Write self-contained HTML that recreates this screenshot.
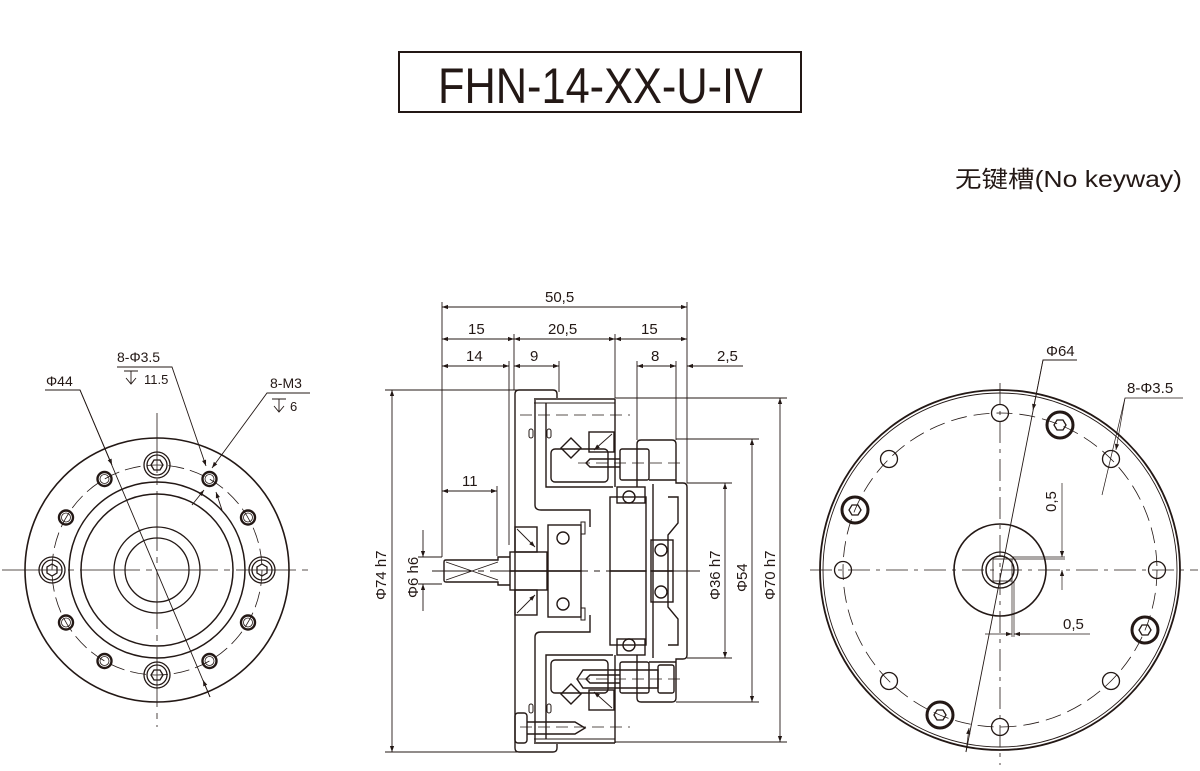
<!DOCTYPE html>
<html><head><meta charset="utf-8"><style>
html,body{margin:0;padding:0;background:#fff;}
svg{display:block;}
text{font-family:"Liberation Sans","Noto Sans CJK SC",sans-serif;fill:#231815;}
</style></head><body>
<svg width="1200" height="771" viewBox="0 0 1200 771" xmlns="http://www.w3.org/2000/svg">
<defs>
<marker id="a" viewBox="0 0 10 10" refX="10" refY="5" markerWidth="9" markerHeight="6" orient="auto-start-reverse" markerUnits="userSpaceOnUse"><path d="M0,1.5 L10,5 L0,8.5 Z" fill="#231815"/></marker>
</defs>
<g stroke="#231815" fill="none" stroke-width="1">
<rect x="399" y="52" width="402" height="60" stroke-width="2"/>
</g>
<text x="438" y="103" font-size="50" textLength="325" lengthAdjust="spacingAndGlyphs">FHN-14-XX-U-IV</text>
<text x="955" y="187" font-size="23" textLength="227" lengthAdjust="spacingAndGlyphs">无键槽(No keyway)</text>

<!-- LEFT VIEW -->
<g stroke="#231815" fill="none" stroke-width="1.3">
<circle cx="157" cy="570" r="132" stroke-width="1.6"/>
<circle cx="157" cy="570" r="88" stroke-width="1.5"/>
<circle cx="157" cy="570" r="76" stroke-width="1.5"/>
<circle cx="157" cy="570" r="43"/>
<circle cx="157" cy="570" r="32"/>
<circle cx="157" cy="570" r="105" stroke-width="0.8" stroke-dasharray="16,6"/>
<g stroke-width="0.8"><line x1="2" y1="570" x2="312" y2="570" stroke-dasharray="60,6,6,6"/><line x1="157" y1="413" x2="157" y2="727" stroke-dasharray="60,6,6,6"/></g>
<g id="cs">
<circle cx="157" cy="465" r="13"/><circle cx="157" cy="465" r="10"/>
<polygon points="163,465 160,460 154,460 151,465 154,470 160,470"/>
</g>
<use href="#cs" transform="rotate(90 157 570)"/>
<use href="#cs" transform="rotate(180 157 570)"/>
<use href="#cs" transform="rotate(270 157 570)"/>
<g stroke-width="2.4">
<circle cx="209.5" cy="479" r="7"/><circle cx="248" cy="517.5" r="7"/><circle cx="248" cy="622.5" r="7"/><circle cx="209.5" cy="661" r="7"/>
<circle cx="104.5" cy="661" r="7"/><circle cx="66" cy="622.5" r="7"/><circle cx="66" cy="517.5" r="7"/><circle cx="104.5" cy="479" r="7"/>
</g>
<g stroke-width="0.8">
<circle cx="209.5" cy="479" r="4.5"/><circle cx="248" cy="517.5" r="4.5"/><circle cx="248" cy="622.5" r="4.5"/><circle cx="209.5" cy="661" r="4.5"/>
<circle cx="104.5" cy="661" r="4.5"/><circle cx="66" cy="622.5" r="4.5"/><circle cx="66" cy="517.5" r="4.5"/><circle cx="104.5" cy="479" r="4.5"/>
</g>
</g>
<g stroke="#231815" fill="none" stroke-width="0.9">
<polyline points="45,390 80,390 210,697"/>
<line x1="80" y1="390" x2="112" y2="465" marker-end="url(#a)"/>
<line x1="210" y1="697" x2="203" y2="680" marker-end="url(#a)"/>
<polyline points="117,367 172,367 206,466" marker-end="url(#a)"/>
<polyline points="310,393 267,393 212,468" marker-end="url(#a)"/>
<line x1="192" y1="505" x2="204" y2="490" marker-end="url(#a)"/>
<line x1="222" y1="510" x2="216" y2="492" marker-end="url(#a)"/>
<!-- depth symbols -->
<path d="M124,371 H138 M131,371 V384 M126,378 L131,384 L136,378"/>
<path d="M272,399 H286 M279,399 V412 M274,406 L279,412 L284,406"/>
</g>
<text x="46" y="386" font-size="14">Φ44</text>
<text x="117" y="362" font-size="14">8-Φ3.5</text>
<text x="144" y="384" font-size="13">11.5</text>
<text x="270" y="388" font-size="14">8-M3</text>
<text x="290" y="411" font-size="13">6</text>

<!-- MIDDLE VIEW -->
<g stroke="#231815" fill="none" stroke-width="0.9">
<line x1="442" y1="302" x2="442" y2="557"/>
<line x1="514" y1="334" x2="514" y2="390"/>
<line x1="509" y1="361" x2="509" y2="545"/>
<line x1="559" y1="361" x2="559" y2="392"/>
<line x1="615" y1="334" x2="615" y2="398"/>
<line x1="687" y1="302" x2="687" y2="483"/>
<line x1="637" y1="361" x2="637" y2="440"/>
<line x1="676" y1="361" x2="676" y2="440"/>
<line x1="497" y1="486" x2="497" y2="556"/>
<line x1="442" y1="307" x2="687" y2="307" marker-start="url(#a)" marker-end="url(#a)"/>
<line x1="442" y1="339" x2="514" y2="339" marker-start="url(#a)" marker-end="url(#a)"/>
<line x1="514" y1="339" x2="615" y2="339" marker-start="url(#a)" marker-end="url(#a)"/>
<line x1="615" y1="339" x2="687" y2="339" marker-start="url(#a)" marker-end="url(#a)"/>
<line x1="442" y1="366" x2="509" y2="366" marker-start="url(#a)" marker-end="url(#a)"/>
<line x1="514" y1="366" x2="559" y2="366" marker-start="url(#a)" marker-end="url(#a)"/>
<line x1="637" y1="366" x2="676" y2="366" marker-start="url(#a)" marker-end="url(#a)"/>
<line x1="687" y1="366" x2="743" y2="366"/>
<line x1="700" y1="366" x2="687" y2="366" marker-end="url(#a)"/>
<line x1="660" y1="366" x2="676" y2="366"/>
<line x1="442" y1="491" x2="497" y2="491" marker-start="url(#a)" marker-end="url(#a)"/>
<line x1="385" y1="390" x2="520" y2="390"/><line x1="385" y1="752" x2="520" y2="752"/>
<line x1="392" y1="390" x2="392" y2="752" marker-start="url(#a)" marker-end="url(#a)"/>
<line x1="615" y1="398" x2="787" y2="398"/><line x1="615" y1="742" x2="787" y2="742"/>
<line x1="780" y1="398" x2="780" y2="742" marker-start="url(#a)" marker-end="url(#a)"/>
<line x1="676" y1="439" x2="759" y2="439"/><line x1="676" y1="702" x2="759" y2="702"/>
<line x1="752" y1="439" x2="752" y2="702" marker-start="url(#a)" marker-end="url(#a)"/>
<line x1="687" y1="483" x2="732" y2="483"/><line x1="687" y1="658" x2="732" y2="658"/>
<line x1="725" y1="483" x2="725" y2="658" marker-start="url(#a)" marker-end="url(#a)"/>
<line x1="418" y1="557" x2="442" y2="557"/><line x1="418" y1="584" x2="442" y2="584"/>
<line x1="423" y1="530" x2="423" y2="557" marker-end="url(#a)"/>
<line x1="423" y1="611" x2="423" y2="584" marker-end="url(#a)"/>
<line x1="432" y1="571" x2="700" y2="571" stroke-dasharray="40,6,6,6"/>
</g>
<g fill="#231815" font-size="15">
<text x="545" y="302">50,5</text>
<text x="468" y="334">15</text>
<text x="548" y="334">20,5</text>
<text x="641" y="334">15</text>
<text x="466" y="361">14</text>
<text x="530" y="361">9</text>
<text x="651" y="361">8</text>
<text x="717" y="361">2,5</text>
<text x="462" y="486">11</text>
<text transform="translate(386,600) rotate(-90)">Φ74 h7</text>
<text transform="translate(418,598) rotate(-90)">Φ6 h6</text>
<text transform="translate(720,600) rotate(-90)">Φ36 h7</text>
<text transform="translate(747,592) rotate(-90)">Φ54</text>
<text transform="translate(775,600) rotate(-90)">Φ70 h7</text>
</g>
<g id="half" stroke="#231815" fill="none" stroke-width="1.4">
<path d="M515,571 V394 Q515,390 519,390 H553 Q557,390 557,394 V398"/>
<path d="M535,400 V505 Q535,510 541,510 H590 V527"/>
<line x1="534" y1="399" x2="615" y2="399"/>
<line x1="534" y1="403" x2="615" y2="403" stroke-width="1"/>
<line x1="615" y1="399" x2="615" y2="487"/>
<path d="M546,403 V487 H613"/>
<rect x="551" y="449" width="57" height="33" rx="4"/>
<polygon points="571,438 581,448 571,458 561,448"/>
<rect x="589" y="432" width="25" height="20"/>
<line x1="612" y1="434" x2="594" y2="450" stroke-width="0.9" marker-end="url(#a)"/>
<rect x="529" y="429" width="4" height="9" rx="2" stroke-width="1"/>
<rect x="547" y="429" width="4" height="9" rx="2" stroke-width="1"/>
<rect x="620" y="449" width="29" height="31" rx="2"/>
<path d="M620,459 H590 L586,463 L590,467 H620"/>
<line x1="520" y1="415" x2="630" y2="415" stroke-dasharray="12,6" stroke-width="0.8"/>
<line x1="578" y1="463" x2="680" y2="463" stroke-dasharray="12,6" stroke-width="0.8"/>
<path d="M637,487 V444 Q637,440 641,440 H672 Q676,440 676,444 V483 H683 Q687,483 687,487 V571"/>
<line x1="649" y1="480" x2="676" y2="480"/>
<line x1="653" y1="484" x2="653" y2="571"/>
<path d="M668,571 V535 L678,523 V497 H668"/>
<rect x="617" y="487" width="28" height="16"/>
<circle cx="629" cy="497" r="6"/>
<rect x="610" y="497" width="36" height="74"/>
<rect x="548" y="525" width="33" height="46"/>
<circle cx="563" cy="538" r="6"/>
<rect x="581" y="522" width="4" height="12" stroke-width="1"/>
<rect x="651" y="540" width="22" height="31"/>
<circle cx="661" cy="550" r="6"/>
<rect x="510" y="552" width="37" height="19"/>
<path d="M444,571 V562 Q444,560 446,560 H498 V557 H510"/>
<line x1="446" y1="562" x2="498" y2="580" stroke-width="0.9"/>
<rect x="515" y="527" width="22" height="25"/>
<line x1="517" y1="529" x2="535" y2="547" stroke-width="0.9" marker-end="url(#a)"/>
</g>
<use href="#half" transform="translate(0,1142) scale(1,-1)"/>
<g stroke="#231815" fill="none" stroke-width="1.4">
<rect x="515" y="713" width="12" height="30" rx="3"/>
<path d="M527,722 H575 L585,728 L575,734 H527"/>
<path d="M583,670 H658 V688 H583 L577,679 Z"/>
<rect x="658" y="665" width="16" height="28" rx="2"/>
</g>

<!-- RIGHT VIEW -->
<g stroke="#231815" fill="none" stroke-width="1.3">
<circle cx="1000" cy="570" r="180" stroke-width="1.8"/>
<circle cx="1000" cy="570" r="177" stroke-width="0.9"/>
<circle cx="1000" cy="570" r="157" stroke-width="0.8" stroke-dasharray="16,7"/>
<g stroke-width="0.8" stroke-dasharray="22,6,4,6">
<line x1="810" y1="570" x2="1198" y2="570"/>
<line x1="1000" y1="383" x2="1000" y2="765"/>
</g>
<circle cx="1000" cy="570" r="46" stroke-width="1.6"/>
<circle cx="1000" cy="570" r="18"/>
<circle cx="1000" cy="570" r="14" stroke-width="1.5"/>
<rect x="993" y="559" width="19" height="22" stroke-width="0.8"/>
<g>
<circle cx="1000" cy="413" r="8.5"/><circle cx="1111" cy="459" r="8.5"/><circle cx="1157" cy="570" r="8.5"/><circle cx="1111" cy="681" r="8.5"/>
<circle cx="1000" cy="727" r="8.5"/><circle cx="889" cy="681" r="8.5"/><circle cx="843" cy="570" r="8.5"/><circle cx="889" cy="459" r="8.5"/>
</g>
<circle cx="1060" cy="425" r="13" stroke-width="3"/>
<polygon points="1066,425 1063,420 1057,420 1054,425 1057,430 1063,430"/>
<g stroke-width="3"><circle cx="1145" cy="630" r="13"/><circle cx="940" cy="715" r="13"/><circle cx="855" cy="510" r="13"/></g>
<polygon points="1151,630 1148,625 1142,625 1139,630 1142,635 1148,635"/>
<polygon points="946,715 943,710 937,710 934,715 937,720 943,720"/>
<polygon points="861,510 858,505 852,505 849,510 852,515 858,515"/>
</g>
<g stroke="#231815" fill="none" stroke-width="0.7">
<polyline points="1077,360 1043,360 966,752" stroke-width="0.9"/>
<line x1="1043" y1="360" x2="1033" y2="410" marker-end="url(#a)"/>
<line x1="966" y1="752" x2="969" y2="728" marker-end="url(#a)"/>
<polyline points="1183,398 1125,398 1102,495"/>
<line x1="1125" y1="398" x2="1116" y2="450" marker-end="url(#a)"/>
<line x1="1062" y1="483" x2="1062" y2="557" marker-end="url(#a)"/>
<line x1="1062" y1="590" x2="1062" y2="570" marker-end="url(#a)"/>
<line x1="1012" y1="557" x2="1065" y2="557"/>
<line x1="1012" y1="559" x2="1065" y2="559"/>
<line x1="1012" y1="581" x2="1012" y2="637"/>
<line x1="1014" y1="581" x2="1014" y2="637"/>
<line x1="985" y1="634" x2="1012" y2="634" marker-end="url(#a)"/>
<line x1="1090" y1="634" x2="1014" y2="634"/>
<line x1="1030" y1="634" x2="1014" y2="634" marker-end="url(#a)"/>
</g>
<g fill="#231815" font-size="15">
<text x="1046" y="356">Φ64</text>
<text x="1127" y="393">8-Φ3.5</text>
<text transform="translate(1056,512) rotate(-90)">0,5</text>
<text x="1063" y="629">0,5</text>
</g>
</svg>
</body></html>
